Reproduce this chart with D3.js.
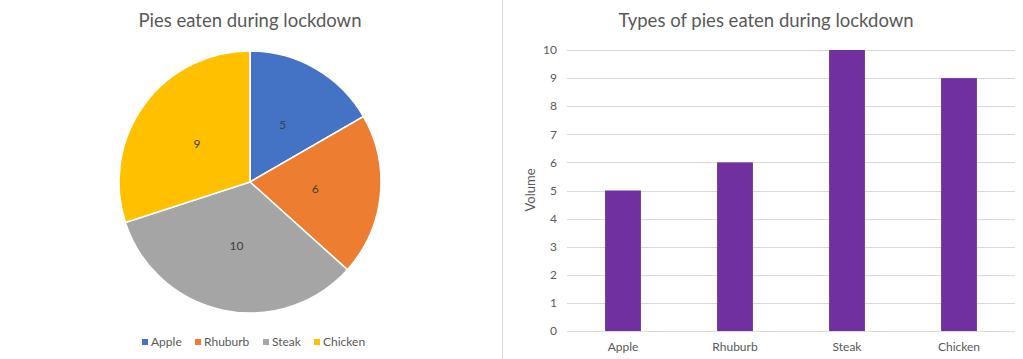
<!DOCTYPE html>
<html><head><meta charset="utf-8">
<script src="https://cdn.jsdelivr.net/npm/d3@7"></script>
<style>body{margin:0;background:#fff;}svg{display:block;font-family:Lato,"Open Sans",sans-serif;}</style>
</head><body>
<svg id="c" width="1023" height="359"></svg>
<script>
const categories = ["Apple", "Rhuburb", "Steak", "Chicken"];
const values = [5, 6, 10, 9];
const pieColors = ["#4472C4", "#ED7D31", "#A5A5A5", "#FFC000"];
const barColor = "#7030A0";
const yTicks = [0,1,2,3,4,5,6,7,8,9,10];
const pieTitle = "Pies eaten during lockdown";
const barTitle = "Types of pies eaten during lockdown";
const yLabel = "Volume";

const svg = d3.select("#c");
const txt = "#595959";

// divider
svg.append("line").attr("x1",502.5).attr("x2",502.5).attr("y1",0).attr("y2",359).attr("stroke","#D9D9D9");

// ---- Pie ----
svg.append("text").attr("x",250).attr("y",27).attr("text-anchor","middle")
  .attr("font-size",18.5).attr("fill",txt).text(pieTitle);
const cx=250, cy=182, R=131;
const pie = d3.pie().sort(null)(values);
const arc = d3.arc().innerRadius(0).outerRadius(R);
const g = svg.append("g").attr("transform",`translate(${cx},${cy})`);
g.selectAll("path").data(pie).join("path").attr("d",arc)
  .attr("fill",(d,i)=>pieColors[i]).attr("stroke","#fff").attr("stroke-width",1.5);
g.selectAll("text").data(pie).join("text")
  .attr("transform",d=>`translate(${arc.centroid(d)})`)
  .attr("text-anchor","middle").attr("dy","0.35em").attr("font-size",12).attr("fill","#404040")
  .text(d=>d.data);
// legend
const legX = [142,195,263,314];
const lg = svg.append("g");
categories.forEach((c,i)=>{
  lg.append("rect").attr("x",legX[i]).attr("y",339).attr("width",6).attr("height",6).attr("fill",pieColors[i]);
  lg.append("text").attr("x",legX[i]+9).attr("y",346).attr("font-size",12).attr("fill",txt).text(c);
});

// ---- Bar ----
svg.append("text").attr("x",766).attr("y",27).attr("text-anchor","middle")
  .attr("font-size",18.5).attr("fill",txt).text(barTitle);
const x = d3.scaleBand().domain(categories).range([567,1015]).paddingInner(0.68).paddingOuter(0.34);
const y = d3.scaleLinear().domain([0,10]).range([331,50]);
const grid = svg.append("g");
grid.selectAll("line").data(yTicks).join("line")
  .attr("x1",567).attr("x2",1015).attr("y1",d=>Math.round(y(d))+0.5).attr("y2",d=>Math.round(y(d))+0.5)
  .attr("stroke","#D9D9D9");
svg.append("g").selectAll("text").data(yTicks).join("text")
  .attr("x",557).attr("y",d=>y(d)).attr("dy","0.35em").attr("text-anchor","end")
  .attr("font-size",12).attr("fill",txt).text(d=>d);
svg.append("g").selectAll("rect").data(values).join("rect")
  .attr("x",(d,i)=>x(categories[i])).attr("width",x.bandwidth())
  .attr("y",d=>y(d)).attr("height",d=>y(0)-y(d)).attr("fill",barColor);
svg.append("g").selectAll("text").data(categories).join("text")
  .attr("x",d=>x(d)+x.bandwidth()/2).attr("y",351).attr("text-anchor","middle")
  .attr("font-size",12).attr("fill",txt).text(d=>d);
svg.append("text").attr("transform","translate(535,190) rotate(-90)").attr("text-anchor","middle")
  .attr("font-size",13).attr("fill",txt).text(yLabel);
</script>
</body></html>
